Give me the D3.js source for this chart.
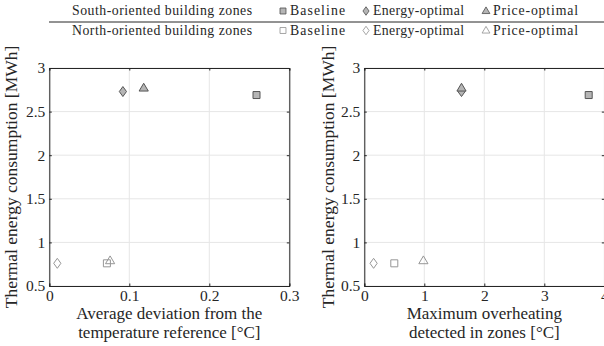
<!DOCTYPE html>
<html>
<head>
<meta charset="utf-8">
<script src="https://cdn.jsdelivr.net/npm/d3@7"></script>
</head>
<body style="margin:0">
<div id="chart"></div>
<script>
// series and labels
var groups = ["South-oriented building zones", "North-oriented building zones"];
var methods = ["Baseline", "Energy-optimal", "Price-optimal"];
var symbols = ["square", "diamond", "triangle"];

// energy (MWh), same for both panels
var southEnergy = [2.69, 2.73, 2.77];
var northEnergy = [0.76, 0.76, 0.79];

// left panel: average deviation [°C]
var southDeviation = [0.259, 0.092, 0.118];
var northDeviation = [0.072, 0.010, 0.076];

// right panel: max overheating [°C]
var southOverheat = [3.74, 1.62, 1.62];
var northOverheat = [0.50, 0.155, 0.985];

var yTicks = [0.5, 1, 1.5, 2, 2.5, 3];
var xTicksLeft = [0, 0.1, 0.2, 0.3];
var xTicksRight = [0, 1, 2, 3, 4];

var FONT = "Liberation Serif";
var TXT = "#262626";
var svg = d3.select("#chart").append("svg").attr("width", 604).attr("height", 346);

var markerStyle = {
    south: { fill: "#b5b5b5", stroke: "#555555" },
    north: { fill: "none", stroke: "#969696" }
};

function markerPath(type) {
    if (type == "square") return "M-3.5,-3.5H3.5V3.5H-3.5Z";
    if (type == "diamond") return "M0,-5L3.6,0L0,5L-3.6,0Z";
    return "M0,-4.8L4.6,3H-4.6Z";          // triangle
}

function addText(sel, x, y, size, str) {
    return sel.append("text").attr("x", x).attr("y", y)
        .attr("font-family", FONT).attr("font-size", size).attr("fill", TXT).text(str);
}

// ---- legend ----
var leg = svg.append("g");
leg.append("line").attr("x1", 49).attr("x2", 604).attr("y1", 22).attr("y2", 22)
    .attr("stroke", TXT).attr("stroke-width", 1);

var markX = [283, 366, 486];
var textW = [55, 91, 85];
groups.forEach(function (g, gi) {
    var yy = gi == 0 ? 11 : 30.5;
    var st = gi == 0 ? markerStyle.south : markerStyle.north;
    addText(leg, 72, yy + 4.3, 13.8, g).attr("textLength", 180);
    methods.forEach(function (m, mi) {
        leg.append("path").attr("d", markerPath(symbols[mi]))
            .attr("transform", "translate(" + markX[mi] + "," + yy + ") scale(0.85)")
            .attr("fill", st.fill).attr("stroke", st.stroke).attr("stroke-width", 1);
        addText(leg, markX[mi] + 7, yy + 4.3, 13.8, m).attr("textLength", textW[mi]);
    });
});

// ---- panels ----
function panel(left, xDomain, xTicks, southX, northX, xLab1, xLab2, ylabX) {
    var top = 68, bottom = 286, pw = 240;
    var x = d3.scaleLinear().domain(xDomain).range([left, left + pw]);
    var y = d3.scaleLinear().domain([0.5, 3]).range([bottom, top]);
    var g = svg.append("g");

    // grid
    g.selectAll(".gx").data(xTicks).enter().append("line")
        .attr("x1", function (d) { return x(d); }).attr("x2", function (d) { return x(d); })
        .attr("y1", top).attr("y2", bottom).attr("stroke", "#e6e6e6");
    g.selectAll(".gy").data(yTicks).enter().append("line")
        .attr("y1", function (d) { return y(d); }).attr("y2", function (d) { return y(d); })
        .attr("x1", left).attr("x2", left + pw).attr("stroke", "#e6e6e6");

    // axes (ticks inward)
    var xb = d3.axisBottom(x).tickValues(xTicks).tickSize(-2.5).tickPadding(4).tickFormat(d3.format("~g"));
    var xt = d3.axisTop(x).tickValues(xTicks).tickSize(-2.5).tickFormat("");
    var yl = d3.axisLeft(y).tickValues(yTicks).tickSize(-2.5).tickPadding(4).tickFormat(d3.format("~g"));
    var yr = d3.axisRight(y).tickValues(yTicks).tickSize(-2.5).tickFormat("");

    [[xb, "translate(0," + bottom + ")"], [xt, "translate(0," + top + ")"],
     [yl, "translate(" + left + ",0)"], [yr, "translate(" + (left + pw) + ",0)"]].forEach(function (a) {
        var ax = g.append("g").attr("transform", a[1]).call(a[0]);
        ax.attr("font-family", FONT).attr("font-size", 15.5);
        ax.select(".domain").attr("stroke", TXT);
        ax.selectAll(".tick line").attr("stroke", TXT);
        ax.selectAll("text").attr("fill", TXT).attr("font-family", FONT);
    });

    // points
    [[southX, southEnergy, markerStyle.south], [northX, northEnergy, markerStyle.north]].forEach(function (s) {
        g.selectAll(null).data(s[0]).enter().append("path")
            .attr("d", function (d, i) { return markerPath(symbols[i]); })
            .attr("transform", function (d, i) { return "translate(" + x(d) + "," + y(s[1][i]) + ")"; })
            .attr("fill", s[2].fill).attr("stroke", s[2].stroke).attr("stroke-width", 1);
    });

    // labels
    var cx = left + pw / 2;
    addText(g, cx, 319, 17, xLab1).attr("text-anchor", "middle");
    addText(g, cx, 338, 17, xLab2).attr("text-anchor", "middle");
    addText(g, 0, 0, 17.5, "Thermal energy consumption [MWh]")
        .attr("transform", "translate(" + ylabX + "," + ((top + bottom) / 2) + ") rotate(-90)")
        .attr("text-anchor", "middle");
}

panel(49.3, [0, 0.3], xTicksLeft, southDeviation, northDeviation,
    "Average deviation from the", "temperature reference [°C]", 17);
panel(364.3, [0, 4], xTicksRight, southOverheat, northOverheat,
    "Maximum overheating", "detected in zones [°C]", 334);
</script>
</body>
</html>
